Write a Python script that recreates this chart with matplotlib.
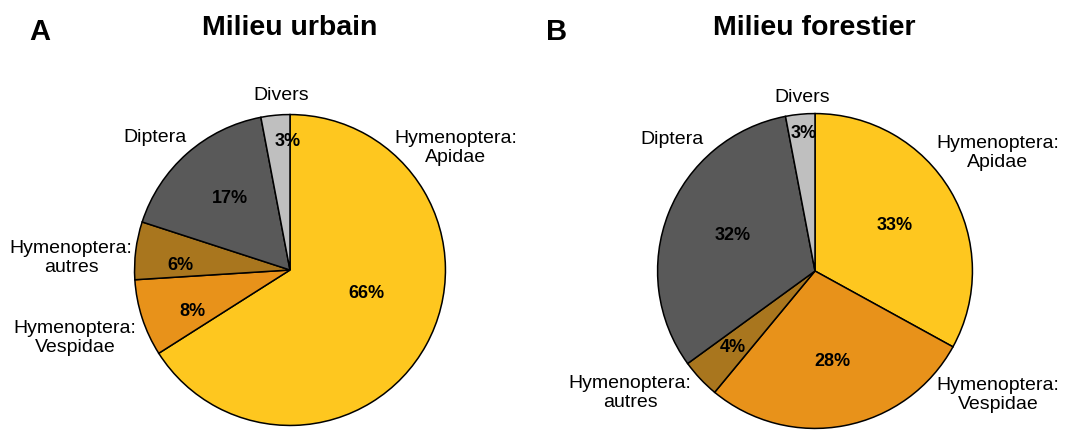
import matplotlib
matplotlib.use('Agg')
from matplotlib import pyplot as plt

# Data
categories = ['Hymenoptera:\nApidae', 'Hymenoptera:\nVespidae', 'Hymenoptera:\nautres',
              'Diptera', 'Divers']
urbain_values = [66, 8, 6, 17, 3]
forestier_values = [33, 28, 4, 32, 3]
titles = ['Milieu urbain', 'Milieu forestier']
panel_letters = ['A', 'B']

colors = ['#FEC71F', '#E8921A', '#A9761E', '#595959', '#BFBFBF']

W, H = 1067, 430
plt.rcParams['font.family'] = ['Liberation Sans', 'DejaVu Sans']

fig = plt.figure(figsize=(W / 100, H / 100), dpi=100)


def px(x, y):
    return x / W, 1 - y / H


# pie layout in pixels: center x, center y, radius
pies = [
    dict(values=urbain_values, cx=290, cy=270, r=157,
         pct_pos=[(366, 293), (192, 312), (180, 265), (230, 198), (288, 142)],
         lab_pos=[(456, 148), (75, 338), (71, 258), (155, 138), (281, 95)],
         title_x=290, letter_x=40),
    dict(values=forestier_values, cx=815, cy=271, r=159,
         pct_pos=[(895, 225), (832, 362), (733, 347), (733, 235), (804, 134)],
         lab_pos=[(998, 153), (998, 395), (630, 393), (672, 140), (802, 97)],
         title_x=814, letter_x=557),
]

for i, p in enumerate(pies):
    r = p['r']
    ax = fig.add_axes([(p['cx'] - r) / W, (H - p['cy'] - r) / H, 2 * r / W, 2 * r / H])
    ax.pie(p['values'], colors=colors, startangle=90, counterclock=False, radius=1,
           wedgeprops=dict(edgecolor='black', linewidth=1.1))
    ax.set_xlim(-1.01, 1.01)
    ax.set_ylim(-1.01, 1.01)
    ax.set_aspect('equal')
    ax.axis('off')

    for v, (x, y) in zip(p['values'], p['pct_pos']):
        fig.text(*px(x, y), f'{v}%', ha='center', va='center',
                 fontsize=13, fontweight='bold')
    for lab, (x, y) in zip(categories, p['lab_pos']):
        fig.text(*px(x, y), lab, ha='center', va='center', fontsize=14,
                 linespacing=1.15)

    fig.text(*px(p['title_x'], 28), titles[i], ha='center', va='center',
             fontsize=20.5, fontweight='bold')
    fig.text(*px(p['letter_x'], 32), panel_letters[i], ha='center', va='center',
             fontsize=21, fontweight='bold')

fig.savefig('out.png', dpi=100)
